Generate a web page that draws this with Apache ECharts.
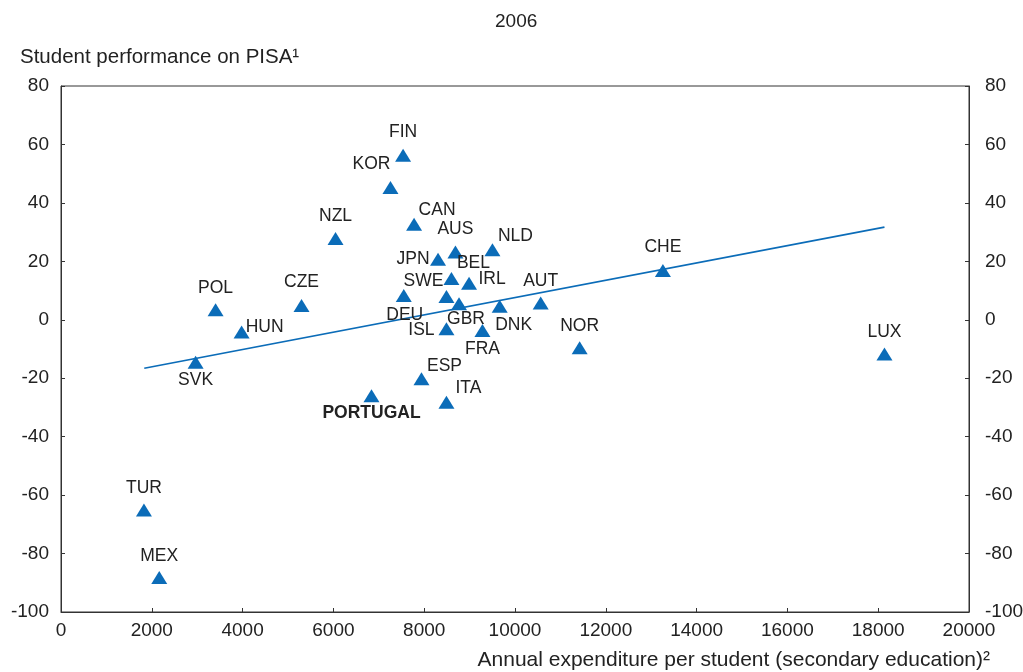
<!DOCTYPE html>
<html><head><meta charset="utf-8">
<script src="https://cdn.jsdelivr.net/npm/echarts@6/dist/echarts.min.js"></script>
<style>html,body{margin:0;padding:0;background:#fff}#c{width:1023px;height:672px}</style>
</head><body><div id="c"></div>
<script>
const countries = ['FIN','KOR','CAN','NZL','AUS','NLD','JPN','BEL','IRL','SWE','GBR','DEU','DNK','ISL','FRA','AUT','NOR','CHE','LUX','ESP','PORTUGAL','ITA','CZE','POL','HUN','SVK','TUR','MEX'];
const expenditure = [7535,7257,7777,6047,8688,9503,8305,8600,8988,8490,8767,7550,9663,8490,9283,10566,11424,13258,18138,7940,6839,8490,5298,3405,3978,2965,1827,2164];
const performance = [56.3,45.3,32.7,27.8,23.2,24.0,20.7,14.1,12.5,8.0,5.5,8.3,4.6,-3.1,-3.7,5.7,-9.6,16.9,-11.7,-20.2,-26.0,-28.2,4.9,3.4,-4.2,-14.5,-65.1,-88.2];
const trendX = [1834, 18138];
const trendY = [-16.6, 31.7];

// label placement (style): offset of label centre from marker centre
const labelOffset = {
  FIN:[0,-23], KOR:[-19,-23], CAN:[23,-14], NZL:[0,-22], AUS:[0,-23], NLD:[23,-13],
  JPN:[-25,0], BEL:[22,-15], IRL:[23,-4], SWE:[-23,-15], GBR:[7,15], DEU:[1,20],
  DNK:[14,19], ISL:[-25,1], FRA:[0,19], AUT:[0,-22], NOR:[0,-22], CHE:[0,-23],
  LUX:[0,-22], ESP:[23,-13], PORTUGAL:[0,17], ITA:[22,-14], CZE:[0,-23], POL:[0,-22],
  HUN:[23,-5], SVK:[0,18], TUR:[0,-22], MEX:[0,-21]
};
const FONT = 'Liberation Sans, Arial, sans-serif';
const BLUE = '#0b6cb8';
const TXT = '#222';

const pts = countries.map((c,i)=>({
  value:[expenditure[i], performance[i]],
  name:c,
  label:{fontWeight: c==='PORTUGAL' ? 'bold' : 'normal'}
}));

const chart = echarts.init(document.getElementById('c'), null, {renderer:'canvas'});
const plain = v => String(v);
const axisCommon = {
  min:-100, max:80, interval:20,
  axisLine:{show:true, onZero:false, lineStyle:{color:'#333', width:1}},
  axisTick:{show:true, inside:true, length:4, lineStyle:{color:'#333'}},
  splitLine:{show:false}
};
chart.setOption({
  animation:false,
  title:[
    {text:'2006', left:495, top:12, padding:0, textStyle:{fontFamily:FONT, fontSize:19, fontWeight:'normal', color:TXT}},
    {text:'Student performance on PISA¹', left:20, top:47, padding:0, textStyle:{fontFamily:FONT, fontSize:20.5, fontWeight:'normal', color:TXT}},
    {text:'Annual expenditure per student (secondary education)²', right:33, top:650, padding:0, textStyle:{fontFamily:FONT, fontSize:21, fontWeight:'normal', color:TXT}}
  ],
  grid:{left:61, right:54, top:86, bottom:60, outerBoundsMode:'none', containLabel:false,
    show:true, borderColor:'#333', borderWidth:1, backgroundColor:'transparent'},
  xAxis:{type:'value', min:0, max:20000, interval:2000,
    axisLine:{show:true, onZero:false, lineStyle:{color:'#333'}},
    axisTick:{show:true, inside:true, length:4, lineStyle:{color:'#333'}},
    splitLine:{show:false},
    axisLabel:{fontFamily:FONT, fontSize:19, color:TXT, margin:9, formatter:plain}},
  yAxis:[
    Object.assign({type:'value', position:'left', axisLabel:{fontFamily:FONT, fontSize:19, color:TXT, margin:12, formatter:plain}}, axisCommon),
    Object.assign({type:'value', position:'right', axisLabel:{fontFamily:FONT, fontSize:19, color:TXT, margin:16, formatter:plain}}, axisCommon)
  ],
  series:[
    {type:'line', data:trendX.map((x,i)=>[x,trendY[i]]), symbol:'none',
      lineStyle:{color:BLUE, width:1.6}, silent:true, z:1},
    {type:'scatter', data:pts, symbol:'triangle', symbolSize:[16,13],
      itemStyle:{color:BLUE, opacity:1}, z:2,
      label:{show:true, position:'inside', formatter:'{b}', fontFamily:FONT, fontSize:17.5, color:TXT},
      labelLayout:function(p){
        const o = labelOffset[countries[p.dataIndex]];
        return {dx:o[0], dy:o[1], hideOverlap:false};
      },
      emphasis:{disabled:true}}
  ]
});
</script></body></html>
